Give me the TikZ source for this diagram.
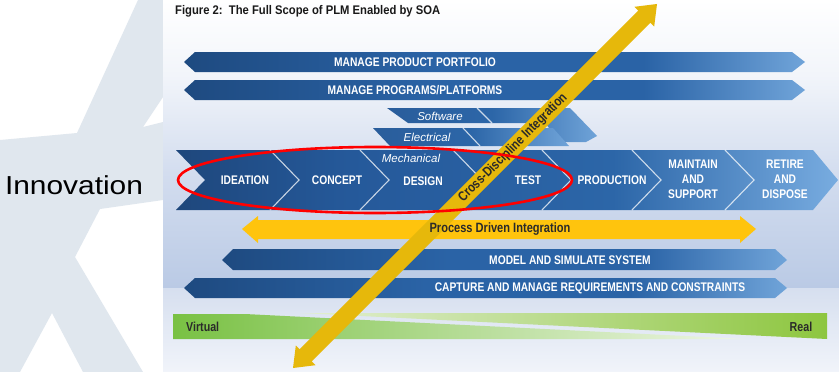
\documentclass[tikz,border=0pt]{standalone}
\usepackage{fontspec}
\setmainfont{Liberation Sans}
\newfontfamily\cond[FakeStretch=0.82]{Liberation Sans}
\newfontfamily\titlefam[FakeStretch=0.9]{Liberation Sans}
\newfontfamily\arialfam{Liberation Sans}
\definecolor{stargrey}{HTML}{E0E7EE}
\definecolor{pbot}{HTML}{BACAE5}
\definecolor{pmid}{HTML}{D3DDEF}
\definecolor{ptoptwo}{HTML}{F2F5FA}
\definecolor{plowa}{HTML}{D6DFEF}
\definecolor{plowb}{HTML}{F1F4FA}
\definecolor{bdark}{HTML}{1E4A80}
\definecolor{bmid}{HTML}{2A63A6}
\definecolor{blight}{HTML}{70A4D9}
\definecolor{mdark}{HTML}{1E477C}
\definecolor{mmid}{HTML}{25599A}
\definecolor{mmidb}{HTML}{2C66A8}
\definecolor{mlight}{HTML}{78ACE0}
\definecolor{ldark}{HTML}{2A5D9B}
\definecolor{llight}{HTML}{6FA3D8}
\definecolor{procy}{HTML}{FFC40D}
\definecolor{crossy}{HTML}{E6B80B}
\definecolor{vgreen}{HTML}{79C143}
\definecolor{vpale}{HTML}{EFF6E6}
\definecolor{rgreen}{HTML}{8DC63F}
\definecolor{rpale}{HTML}{E3EFD3}
\definecolor{darktext}{HTML}{2A2A2A}
\pgfdeclareverticalshading{panelshade}{100bp}{color(0bp)=(pbot); color(25bp)=(pbot); color(45bp)=(pmid); color(62bp)=(ptoptwo); color(75bp)=(white); color(100bp)=(white)}
\pgfdeclarehorizontalshading{bandshade}{100bp}{color(0bp)=(bdark); color(25bp)=(bdark); color(45bp)=(bmid); color(62bp)=(bmid); color(75bp)=(blight); color(100bp)=(blight)}
\pgfdeclarehorizontalshading{mainshade}{100bp}{color(0bp)=(mdark); color(25bp)=(mdark); color(38bp)=(mmid); color(58bp)=(mmidb); color(75bp)=(mlight); color(100bp)=(mlight)}
\pgfdeclarehorizontalshading{layershade}{100bp}{color(0bp)=(ldark); color(25bp)=(ldark); color(50bp)=(mmidb); color(75bp)=(llight); color(100bp)=(llight)}
\tikzset{
  bandtext/.style={text=white, font=\cond\bfseries\fontsize{12.5}{15}\selectfont, inner sep=0pt, align=center},
  darklabel/.style={text=darktext, font=\cond\bfseries\fontsize{13}{15}\selectfont, inner sep=0pt},
  layertext/.style={text=white, font=\arialfam\itshape\fontsize{11.5}{13}\selectfont, inner sep=0pt},
  divider/.style={draw=white, draw opacity=0.75, line width=1.1pt},
  bandfill/.style={shading=bandshade},
}
\begin{document}
\begin{tikzpicture}[x=1pt,y=-1pt]
\useasboundingbox (0,0) rectangle (839,372);
% left background with star
\fill[white] (0,0) rectangle (163,372);
\fill[stargrey] (138,0) -- (163,0) -- (163,97) -- (143,127) -- (163,122) -- (163,200) -- (100,209) -- (75,257) -- (143,372) -- (83,372) -- (52,313) -- (20,372) -- (0,372) -- (0,140) -- (77,133) -- cycle;
\node[font=\arialfam\fontsize{26}{30}\selectfont, inner sep=0pt] (innov) at (74,185) {\scalebox{1.15}[1]{Innovation}};
% panel background
\shade[shading=panelshade] (163,0) rectangle (839,288);
\shade[top color=plowa, bottom color=plowb] (163,288) rectangle (839,372);
% title
\node[anchor=base west, inner sep=0pt, font=\titlefam\bfseries\fontsize{12.5}{15}\selectfont, text=black!90] (title) at (175,14) {Figure 2:\ \ The Full Scope of PLM Enabled by SOA};
% top banners
\shade[bandfill] (184,62) -- (195,52) -- (792,52) -- (805,62) -- (792,72) -- (195,72) -- cycle;
\node[bandtext] (portfolio) at (415,62) {MANAGE PRODUCT PORTFOLIO};
\shade[bandfill] (184,90) -- (195,80) -- (792,80) -- (805,90) -- (792,100) -- (195,100) -- cycle;
\node[bandtext] (programs) at (415,90) {MANAGE PROGRAMS/PLATFORMS};
% layers
\shade[shading=layershade] (387,108) -- (570,108) -- (597,136) -- (586,142) -- (560,142) -- (545,123) -- (408,123) -- cycle;
\draw[divider] (477,108) -- (492,123);
\shade[shading=layershade] (373,128) -- (553,128) -- (569,146) -- (390,146) -- cycle;
\draw[divider] (463,128) -- (480,146);
\node[layertext] (software) at (440,116) {Software};
\node[layertext] (electrical) at (427,137) {Electrical};
% main band
\shade[shading=mainshade] (176,150) -- (813,150) -- (838,180) -- (813,210) -- (176,210) -- (205,180) -- cycle;
\foreach \xt in {270,360,453,542,632,725}{
  \draw[divider] (\xt,150) -- (\xt+29,180) -- (\xt,210);
}
\node[layertext] (mechanical) at (411,158) {Mechanical};
\node[bandtext] (ideation) at (245,180) {IDEATION};
\node[bandtext] (concept) at (337,180) {CONCEPT};
\node[bandtext] (design) at (423,181) {DESIGN};
\node[bandtext] (test) at (528,180) {TEST};
\node[bandtext] (production) at (612,180) {PRODUCTION};
\node[bandtext] (maintain) at (693,179) {MAINTAIN\\AND\\SUPPORT};
\node[bandtext] (retire) at (785,179) {RETIRE\\AND\\DISPOSE};
% process driven integration
\fill[procy] (242,229) -- (258,216) -- (258,220) -- (740,220) -- (740,216) -- (756,229) -- (740,243) -- (740,239) -- (258,239) -- (258,243) -- cycle;
% lower banners
\shade[bandfill] (222,260) -- (233,249) -- (775,249) -- (787,260) -- (775,270) -- (233,270) -- cycle;
\node[bandtext] (model) at (570,260) {MODEL AND SIMULATE SYSTEM};
\shade[bandfill] (184,288) -- (195,278) -- (775,278) -- (787,288) -- (775,298) -- (195,298) -- cycle;
\node[bandtext] (capture) at (590,288) {CAPTURE AND MANAGE REQUIREMENTS AND CONSTRAINTS};
% virtual / real bar
\shade[left color=vgreen, right color=vpale] (173,314) -- (245,314) -- (745,339) -- (173,339) -- cycle;
\shade[left color=rpale, right color=rgreen] (300,313) -- (827,313) -- (827,339) -- cycle;
\node[darklabel, anchor=west] (virtual) at (186,327) {Virtual};
\node[darklabel] (real) at (801,327) {Real};
% cross-discipline integration
\begin{scope}[shift={(293,368)}, rotate=45]
\fill[crossy] (0,0) -- (18,14) -- (18,8.5) -- (496.8,8.5) -- (496.8,14) -- (514.8,0) -- (496.8,-14) -- (496.8,-8.5) -- (18,-8.5) -- (18,-14) -- cycle;
\end{scope}
\node[darklabel, font=\cond\bfseries\fontsize{13.5}{15}\selectfont] (process) at (500,229.5) {Process Driven Integration};
\node[darklabel, font=\cond\bfseries\fontsize{13.5}{15}\selectfont, rotate=45] (cross) at (513,148) {Cross-Discipline Integration};
% red ellipse
\draw[red, line width=2.6pt] (375,180) ellipse [x radius=197, y radius=33];
\end{tikzpicture}
\end{document}
